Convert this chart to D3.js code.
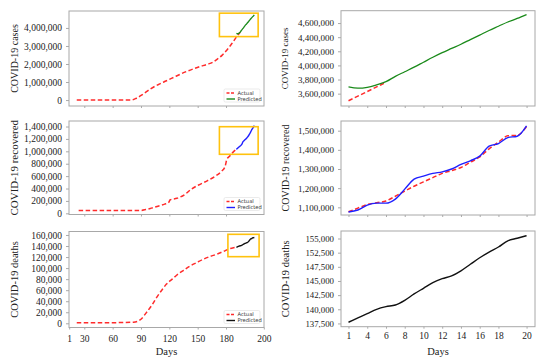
<!DOCTYPE html>
<html>
<head>
<meta charset="utf-8">
<script src="https://cdn.jsdelivr.net/npm/d3@7"></script>
<style>
  body { margin: 0; background: #fff; }
  text { font-family: "Liberation Serif", "Times New Roman", serif; fill: #222; }
  .legend text { font-family: "DejaVu Sans", sans-serif; fill: #333; }
</style>
</head>
<body>
<svg id="chart" width="550" height="360"></svg>
<script>
// ---- Data ----
// Left column: full history on a day axis
const leftTickPos = [14, 30, 60, 90, 120, 150, 180, 220];
const leftTickLabels = ['1', '30', '60', '90', '120', '150', '180', '200'];

// Last 20 days (the zoomed right column)
const recentDays = [191, 192, 193, 194, 195, 196, 197, 198, 199, 200, 201, 202, 203, 204, 205, 206, 207, 208, 209, 210];
const rightTickPos = [191, 193, 195, 197, 199, 201, 203, 205, 207, 210];
const rightTickLabels = ['1', '4', '6', '8', '10', '12', '14', '16', '18', '20'];

// Cases
const casesHistDays = [22, 40, 60, 80, 85, 92, 100, 108, 117, 125, 131, 138, 145, 152, 160, 166, 171, 176, 181, 186, 190];
const casesHist = [0, 0, 0, 10000, 100000, 320000, 620000, 850000, 1070000, 1270000, 1420000, 1580000, 1720000, 1850000, 1980000, 2100000, 2280000, 2490000, 2780000, 3120000, 3420000];
const casesRecentDays = [191, 192, 193, 194, 195];
const casesRecent = [3500000, 3565000, 3630000, 3695000, 3760000];
const casesPred = [3695000, 3678000, 3690000, 3725000, 3770000, 3845000, 3910000, 3975000, 4045000, 4115000,
  4180000, 4240000, 4300000, 4365000, 4430000, 4495000, 4555000, 4615000, 4665000, 4720000];

// Recovered
const recHistDays = [24, 50, 70, 89, 95, 101, 108, 115, 119, 121, 128, 137, 142, 151, 160, 168, 175, 179, 181, 184, 188, 191];
const recHist = [45000, 45000, 45000, 45000, 60000, 84000, 115000, 148000, 170000, 218000, 242000, 310000, 376000, 457000, 524000, 593000, 674000, 755000, 875000, 925000, 995000, 1032000];
// the full-history panel shows a slightly different predicted run
const recPredLeft = [1032000, 1045000, 1060000, 1074000, 1085000, 1100000, 1120000, 1155000, 1170000, 1185000,
  1200000, 1215000, 1235000, 1255000, 1280000, 1310000, 1340000, 1365000, 1390000, 1413000];
const recActual = [1077000, 1096000, 1115000, 1124000, 1133000, 1158000, 1185000, 1210000, 1233000, 1255000,
  1277000, 1292000, 1308000, 1335000, 1363000, 1405000, 1440000, 1473000, 1476000, 1522000];
const recPred = [1075500, 1086000, 1112000, 1122000, 1122000, 1143000, 1195000, 1247000, 1263000, 1277000,
  1285000, 1300000, 1324000, 1343000, 1367000, 1419000, 1433000, 1464000, 1471000, 1525000];

// Deaths
const deathHistDays = [22, 50, 82, 89, 96, 102, 107, 112, 117, 123, 128, 135, 142, 149, 156, 163, 170, 177, 183, 188, 191];
const deathHist = [1000, 1000, 2000, 6000, 20000, 34000, 48000, 60000, 71000, 80000, 87500, 96000, 104000, 110000, 116000, 121000, 125000, 130000, 134600, 136800, 137700];
const deathPred = [137710, 138470, 139230, 140000, 140470, 140760, 141590, 142710, 143710, 144700,
  145400, 145900, 146800, 148400, 150700, 152600, 153500, 154600, 155040, 155500];

// y ticks
const casesTicksL = [0, 1000000, 2000000, 3000000, 4000000];
const casesTicksR = [3600000, 3800000, 4000000, 4200000, 4400000, 4600000];
const recTicksL = [0, 200000, 400000, 600000, 800000, 1000000, 1200000, 1400000];
const recTicksR = [1100000, 1200000, 1300000, 1400000, 1500000];
const deathTicksL = [0, 20000, 40000, 60000, 80000, 100000, 120000, 140000, 160000];
// the zoomed deaths axis is labelled unevenly in the original
const deathTicksR = [137500, 140000, 142500, 145000, 147500, 152500, 155000];

// zoom windows drawn on the left panels [day0, day1, v0, v1]
const zoomCases = [173, 214, 3520000, 4820000];
const zoomRec = [173, 214, 952000, 1397000];
const zoomDeath = [182, 215, 120700, 161200];

const colActual = '#ff2b2b';
const colZoom = '#ffc20e';

const svg = d3.select('#chart');
const fmt = d3.format(',');

function drawPanel(cfg) {
  const w = cfg.box.x1 - cfg.box.x0;
  const h = cfg.box.y1 - cfg.box.y0;
  const g = svg.append('g').attr('transform', `translate(${cfg.box.x0},${cfg.box.y0})`);

  const x = d3.scaleLinear().domain(cfg.xDomain).range([0, w]);
  const y = cfg.yScale ? cfg.yScale(h) : d3.scaleLinear().domain(cfg.yDomain).range([h, 0]);

  // y axis
  const yAxis = g.append('g')
    .call(d3.axisLeft(y).tickValues(cfg.yTicks).tickFormat((d) => fmt(d)).tickSize(3).tickPadding(4));
  yAxis.select('.domain').remove();
  yAxis.selectAll('line').attr('stroke', '#aaa');
  yAxis.selectAll('text').style('font-size', `${cfg.tickFont}px`).style('font-family', '"Liberation Serif", serif').attr('fill', '#222');

  // x axis
  const xAxis = g.append('g').attr('transform', `translate(0,${h})`)
    .call(d3.axisBottom(x).tickValues(cfg.xTicks)
      .tickFormat((d, i) => (cfg.xLabels ? cfg.xLabels[i] : ''))
      .tickSize(2).tickPadding(cfg.xPad || 5));
  xAxis.select('.domain').remove();
  xAxis.selectAll('line').attr('stroke', '#aaa');
  xAxis.selectAll('text').style('font-size', '9.5px').style('font-family', '"Liberation Serif", serif').attr('fill', '#222');

  // frame
  g.append('rect').attr('width', w).attr('height', h)
    .attr('fill', 'none').attr('stroke', '#a8a8a8').attr('stroke-width', 1);

  // series
  cfg.series.forEach((s) => {
    const line = d3.line()
      .x((d) => x(d[0]))
      .y((d) => y(d[1]))
      .curve(d3.curveMonotoneX);
    g.append('path')
      .datum(s.days.map((d, i) => [d, s.values[i]]))
      .attr('fill', 'none')
      .attr('stroke', s.color)
      .attr('stroke-width', s.width || 1.5)
      .attr('stroke-dasharray', s.dash || null)
      .attr('d', line);
  });

  // zoom window
  if (cfg.zoom) {
    const z = cfg.zoom;
    g.append('rect')
      .attr('x', x(z[0])).attr('y', y(z[3]))
      .attr('width', x(z[1]) - x(z[0]))
      .attr('height', y(z[2]) - y(z[3]))
      .attr('fill', 'none').attr('stroke', colZoom).attr('stroke-width', 1.6);
  }

  // legend
  if (cfg.legend) {
    const lg = g.append('g').attr('class', 'legend')
      .attr('transform', `translate(${w - 40},${h - 17})`);
    lg.append('rect').attr('width', 36).attr('height', 13).attr('rx', 1.5)
      .attr('fill', '#fff').attr('stroke', '#ddd').attr('stroke-width', 0.6);
    cfg.legend.forEach((e, i) => {
      const yy = 4 + i * 6;
      lg.append('line').attr('x1', 2.5).attr('x2', 11).attr('y1', yy).attr('y2', yy)
        .attr('stroke', e.color).attr('stroke-width', 1.4)
        .attr('stroke-dasharray', e.dash || null);
      lg.append('text').attr('x', 13.5).attr('y', yy + 1.8)
        .style('font-size', '5.2px').text(e.label);
    });
  }

  // y label
  svg.append('text')
    .attr('transform', `translate(${cfg.labelX},${cfg.box.y0 + h / 2}) rotate(-90)`)
    .attr('text-anchor', 'middle')
    .attr('dy', '0.35em')
    .style('font-size', `${cfg.labelFont}px`)
    .text(cfg.label);

  if (cfg.xTitle) {
    svg.append('text')
      .attr('x', cfg.box.x0 + w / 2)
      .attr('y', 354.5)
      .attr('text-anchor', 'middle')
      .style('font-size', '10.5px')
      .text(cfg.xTitle);
  }
}

const leftDomain = [13.8, 220.2];
const rightDomain = [190.2, 210.9];
const dash = '4.5,2.5';

// ---- Left column ----
drawPanel({
  box: { x0: 69, x1: 264, y0: 11, y1: 106 },
  xDomain: leftDomain, xTicks: leftTickPos.slice(1, -1),
  yDomain: [-330000, 4940000], yTicks: casesTicksL, tickFont: 9.5,
  label: 'COVID-19 cases', labelX: 14, labelFont: 10,
  zoom: zoomCases,
  series: [
    { days: casesHistDays.concat(casesRecentDays), values: casesHist.concat(casesRecent), color: colActual, dash },
    { days: recentDays, values: casesPred, color: '#1a8a1a', width: 1.3 },
  ],
  legend: [
    { label: 'Actual', color: colActual, dash: '3,1.5' },
    { label: 'Predicted', color: '#1a8a1a' },
  ],
});

drawPanel({
  box: { x0: 69, x1: 264, y0: 121, y1: 214.5 },
  xDomain: leftDomain, xTicks: leftTickPos.slice(1, -1),
  yDomain: [-19000, 1489000], yTicks: recTicksL, tickFont: 9.5,
  label: 'COVID-19 recovered', labelX: 14, labelFont: 11,
  zoom: zoomRec,
  series: [
    { days: recHistDays, values: recHist, color: colActual, dash },
    { days: recentDays, values: recPredLeft, color: '#1f1fff', width: 1.4 },
  ],
  legend: [
    { label: 'Actual', color: colActual, dash: '3,1.5' },
    { label: 'Predicted', color: '#1f1fff' },
  ],
});

drawPanel({
  box: { x0: 69, x1: 264, y0: 231.5, y1: 327.5 },
  xDomain: leftDomain, xTicks: leftTickPos, xLabels: leftTickLabels, xPad: 6,
  yDomain: [-7600, 166300], yTicks: deathTicksL, tickFont: 9.5,
  label: 'COVID-19 deaths', labelX: 14, labelFont: 10.5,
  zoom: zoomDeath, xTitle: 'Days',
  series: [
    { days: deathHistDays, values: deathHist, color: colActual, dash },
    { days: recentDays, values: deathPred, color: '#111', width: 1.4 },
  ],
  legend: [
    { label: 'Actual', color: colActual, dash: '3,1.5' },
    { label: 'Predicted', color: '#111' },
  ],
});

// ---- Right column (last 20 days) ----
drawPanel({
  box: { x0: 341, x1: 535, y0: 10.7, y1: 106 },
  xDomain: rightDomain, xTicks: rightTickPos,
  yDomain: [3425000, 4775000], yTicks: casesTicksR, tickFont: 9,
  label: 'COVID-19 cases', labelX: 285, labelFont: 9,
  series: [
    { days: casesRecentDays, values: casesRecent, color: colActual, dash },
    { days: recentDays, values: casesPred, color: '#1a8a1a', width: 1.3 },
  ],
});

drawPanel({
  box: { x0: 341, x1: 535, y0: 121, y1: 215 },
  xDomain: rightDomain, xTicks: rightTickPos,
  yDomain: [1060000, 1550500], yTicks: recTicksR, tickFont: 9,
  label: 'COVID-19  recovered', labelX: 285, labelFont: 10,
  series: [
    { days: recentDays, values: recActual, color: colActual, dash },
    { days: recentDays, values: recPred, color: '#1f1fff', width: 1.4 },
  ],
});

drawPanel({
  box: { x0: 341, x1: 535, y0: 231, y1: 326.7 },
  xDomain: rightDomain, xTicks: rightTickPos, xLabels: rightTickLabels, xPad: 4,
  yScale: (h) => {
    const s = h / 6.76;
    return d3.scaleLinear()
      .domain([137500, 147500, 152500, 155000])
      .range([h - 0.23 * s, h - 4.23 * s, h - 5.23 * s, h - 6.23 * s]);
  },
  yTicks: deathTicksR, tickFont: 8.8,
  label: 'COVID-19 deaths', labelX: 285, labelFont: 10.5,
  xTitle: 'Days',
  series: [
    { days: recentDays, values: deathPred, color: '#111', width: 1.4 },
  ],
});
</script>
</body>
</html>
